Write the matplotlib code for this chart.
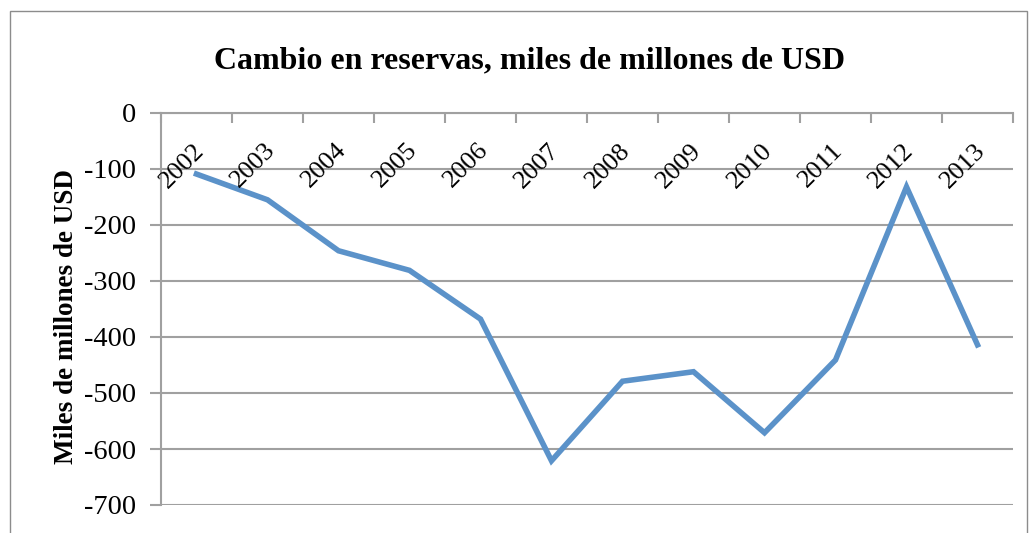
import matplotlib.pyplot as plt
from matplotlib.patches import Rectangle

years = ['2002', '2003', '2004', '2005', '2006', '2007', '2008', '2009',
         '2010', '2011', '2012', '2013']
reservas = [-109, -155, -246, -281, -368, -621, -479, -462, -571, -441,
            -132, -414]
yticks = [0, -100, -200, -300, -400, -500, -600, -700]

plt.rcParams['font.family'] = ['Liberation Serif', 'DejaVu Serif']
grey = '#a0a0a0'

W, H = 1035, 533
fig = plt.figure(figsize=(W / 100, H / 100), dpi=100)
# frame round the whole chart
fig.patches.append(Rectangle((10 / W, -0.05), 1017 / W, 1 - 11 / H + 0.05,
                             transform=fig.transFigure, fill=False,
                             edgecolor='#8c8c8c', linewidth=1.0))

ax = fig.add_axes([161 / W, 1 - 505 / H, (1013 - 161) / W, (505 - 113) / H])
x = list(range(len(years)))
ax.plot(x, reservas, color='#5b92c9', linewidth=4.0, solid_joinstyle='miter',
        zorder=3)

ax.set_xlim(-0.5, len(years) - 0.5)
ax.set_ylim(-700, 0)
ax.set_yticks(yticks)
ax.set_yticklabels([str(v) for v in yticks])
ax.yaxis.grid(True, color=grey, linewidth=1.5)
ax.tick_params(axis='y', length=8, width=1.5, color=grey, pad=10,
               labelsize=20.5)

# category axis sits on y = 0 at the top
ax.set_xticks([i - 0.5 for i in range(len(years) + 1)])
ax.set_xticklabels([])
ax.xaxis.tick_top()
ax.tick_params(axis='x', direction='in', length=7, width=1.5, color=grey)
for sp in ['right', 'bottom']:
    ax.spines[sp].set_visible(False)
for sp in ['top', 'left']:
    ax.spines[sp].set_color(grey)
    ax.spines[sp].set_linewidth(1.5)

for i, yr in enumerate(years):
    ax.annotate(yr, xy=(i, 0), xytext=(4, -34), textcoords='offset pixels',
                rotation=45, rotation_mode='anchor', ha='right', va='center',
                fontsize=19)

ax.set_ylabel('Miles de millones de USD', fontsize=19.5, fontweight='bold',
              va='center')
ax.yaxis.set_label_coords(-0.1115, 0.482)
fig.text(530 / W, 1 - 68 / H, 'Cambio en reservas, miles de millones de USD',
         ha='center', va='baseline', fontsize=23, fontweight='bold')

fig.savefig('out.png', dpi=100)
